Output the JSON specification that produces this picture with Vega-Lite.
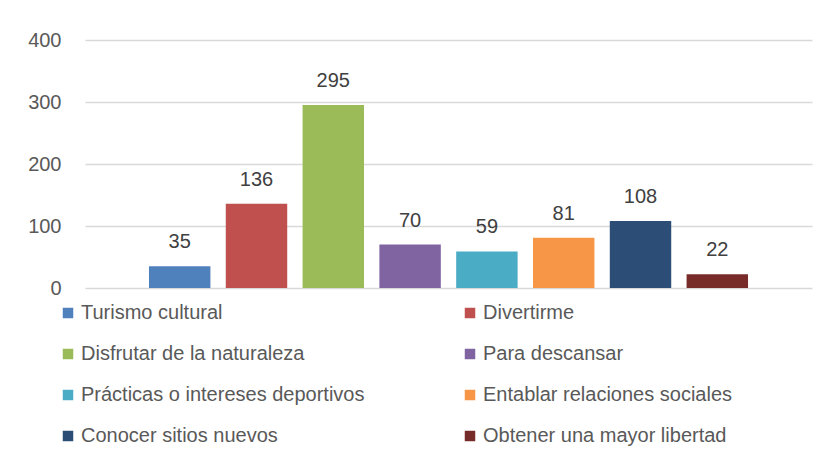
{
  "$schema": "https://vega.github.io/schema/vega-lite/v6.json",
  "width": 727,
  "height": 248,
  "autosize": {"type": "none"},
  "padding": {"left": 85, "top": 40, "right": 18, "bottom": 169},
  "background": "white",
  "config": {
    "view": {"stroke": null},
    "font": "Liberation Sans"
  },
  "data": {
    "values": [
      {"motivo": "Turismo cultural", "valor": 35},
      {"motivo": "Divertirme", "valor": 136},
      {"motivo": "Disfrutar de la naturaleza", "valor": 295},
      {"motivo": "Para descansar", "valor": 70},
      {"motivo": "Prácticas o intereses deportivos", "valor": 59},
      {"motivo": "Entablar relaciones sociales", "valor": 81},
      {"motivo": "Conocer sitios nuevos", "valor": 108},
      {"motivo": "Obtener una mayor libertad", "valor": 22}
    ]
  },
  "encoding": {
    "x": {
      "field": "motivo",
      "type": "nominal",
      "sort": null,
      "axis": null,
      "scale": {"paddingInner": 0.2, "paddingOuter": 0.833}
    },
    "y": {
      "field": "valor",
      "type": "quantitative",
      "scale": {"domain": [0, 400], "nice": false},
      "axis": {
        "title": null,
        "values": [0, 100, 200, 300, 400],
        "domain": false,
        "ticks": false,
        "grid": true,
        "gridColor": "#D9D9D9",
        "gridWidth": 1.5,
        "labelColor": "#595959",
        "labelFontSize": 20,
        "labelPadding": 24
      }
    }
  },
  "layer": [
    {
      "mark": {"type": "bar"},
      "encoding": {
        "color": {
          "field": "motivo",
          "type": "nominal",
          "sort": null,
          "scale": {
            "domain": ["Turismo cultural", "Divertirme", "Disfrutar de la naturaleza", "Para descansar", "Prácticas o intereses deportivos", "Entablar relaciones sociales", "Conocer sitios nuevos", "Obtener una mayor libertad"],
            "range": ["#4F81BD", "#C0504D", "#9BBB59", "#8064A2", "#4BACC6", "#F79646", "#2C4D75", "#772C2A"]
          },
          "legend": {
            "title": null,
            "orient": "none",
            "legendX": -27,
            "legendY": 263,
            "direction": "horizontal",
            "columns": 2,
            "columnPadding": 95,
            "rowPadding": 21,
            "padding": 0,
            "symbolType": "square",
            "symbolSize": 110,
            "symbolStrokeWidth": 0,
            "labelOffset": 3,
            "labelFontSize": 20,
            "labelColor": "#595959",
            "labelLimit": 400
          }
        }
      }
    },
    {
      "mark": {"type": "text", "baseline": "alphabetic", "dy": -18, "fontSize": 20, "color": "#404040"},
      "encoding": {
        "text": {"field": "valor", "type": "quantitative"}
      }
    }
  ]
}
